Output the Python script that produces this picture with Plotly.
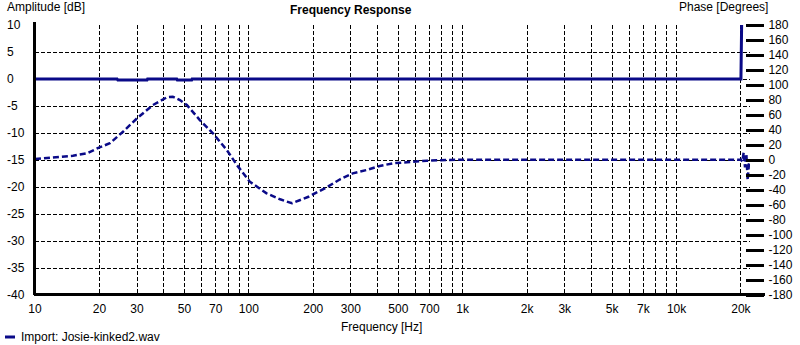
import plotly.graph_objects as go
import numpy as np

# ---- data ----
amp_freq = [10, 24.2, 24.4, 33.4, 33.6, 46, 46.3, 54, 54.3, 20000, 20300, 22050]
amp_db = [0, 0, -0.2, -0.2, 0, 0, -0.2, -0.2, 0, 0, 20, 20]

phase_freq = [10, 12.1, 15.05, 17.5, 19.9, 22.4, 25.8, 30.0, 35.6, 41.4, 44.1, 47.6,
              51.3, 59.0, 67.9, 78.9, 87.9, 101, 121, 140, 159, 190, 231, 266, 287,
              306, 356, 409, 471, 548, 679, 869, 1000, 2000, 5000, 10000, 20000,
              20300, 20600, 20900, 21200, 21500, 21800, 22050]
phase_deg = [1.3, 3.1, 5.7, 8.9, 16.5, 22.3, 37.7, 55.6, 73.3, 83.6, 84.4, 80,
             73.3, 53.3, 35.6, 13.3, -6.7, -28.9, -44.4, -52.4, -57.7, -49, -36.5, -26, -21.5,
             -17.8, -13.3, -8, -4.4, -2.7, -0.9, 0, 0.5, 0.5, 0.5, 0.5, 0.5,
             -2, 10, -10, 8, -27, -5, 0]

x_grid_vals = [10, 20, 30, 40, 50, 60, 70, 80, 90,
               100, 200, 300, 400, 500, 600, 700, 800, 900,
               1000, 2000, 3000, 4000, 5000, 6000, 7000, 8000, 9000,
               10000, 20000]
x_tick_text = ["10", "20", "30", "", "50", "", "70", "", "",
               "100", "200", "300", "", "500", "", "700", "", "",
               "1k", "2k", "3k", "", "5k", "", "7k", "", "",
               "10k", "20k"]
amp_ticks = [10, 5, 0, -5, -10, -15, -20, -25, -30, -35, -40]
phase_ticks = list(range(-180, 181, 20))
phase_tick_text = [str(v) for v in phase_ticks]

LINE = "#0a0a88"
FONT = "Liberation Sans"

W, H = 800, 345
L, R, T, B = 35, 50, 25, 50
PW = W - L - R
PH = H - T - B

def px(x):
    return (x - L) / PW

def py(y):
    return (H - B - y) / PH

fig = go.Figure()
fig.add_trace(go.Scatter(x=amp_freq, y=amp_db, mode="lines",
                         line=dict(color=LINE, width=3), yaxis="y", showlegend=False))
fig.add_trace(go.Scatter(x=phase_freq, y=phase_deg, mode="lines",
                         line=dict(color=LINE, width=2.5, dash="6px,3px"),
                         yaxis="y2", showlegend=False))

annotations = []
for v in amp_ticks:
    annotations.append(dict(x=px(5), xref="paper", y=v, yref="y", text=str(v),
                            showarrow=False, xanchor="left", yanchor="middle",
                            font=dict(family=FONT, size=12, color="black")))
annotations += [
    dict(x=px(5), y=py(7), xref="paper", yref="paper", text="Amplitude [dB]",
         showarrow=False, xanchor="left", yanchor="middle",
         font=dict(family=FONT, size=12, color="black")),
    dict(x=px(351), y=py(10), xref="paper", yref="paper", text="<b>Frequency Response</b>",
         showarrow=False, xanchor="center", yanchor="middle",
         font=dict(family=FONT, size=12, color="black")),
    dict(x=px(677), y=py(7), xref="paper", yref="paper", text="Phase [Degrees]",
         showarrow=False, xanchor="left", yanchor="middle",
         font=dict(family=FONT, size=12, color="black")),
    dict(x=px(381), y=py(327), xref="paper", yref="paper", text="Frequency [Hz]",
         showarrow=False, xanchor="center", yanchor="middle",
         font=dict(family=FONT, size=12, color="black")),
    dict(x=px(19), y=py(337), xref="paper", yref="paper", text="Import: Josie-kinked2.wav",
         showarrow=False, xanchor="left", yanchor="middle",
         font=dict(family=FONT, size=12, color="black")),
]

shapes = [
    dict(type="line", xref="paper", yref="paper", x0=px(34), x1=px(765), y0=py(294.5), y1=py(294.5),
         line=dict(color="black", width=3)),
    dict(type="line", xref="paper", yref="paper", x0=px(34.5), x1=px(34.5), y0=py(295), y1=py(22),
         line=dict(color="black", width=3)),
    dict(type="line", xref="paper", yref="paper", x0=px(5), x1=px(15), y0=py(337), y1=py(337),
         line=dict(color=LINE, width=3)),
]

fig.update_layout(
    width=W, height=H,
    margin=dict(l=L, r=R, t=T, b=B, pad=0, autoexpand=False),
    paper_bgcolor="white", plot_bgcolor="white",
    font=dict(family=FONT, size=12, color="black"),
    xaxis=dict(type="log", range=[1, np.log10(22050)], automargin=False,
               tickvals=x_grid_vals, ticktext=x_tick_text,
               showgrid=True, gridcolor="black", gridwidth=1, griddash="4px,2px",
               zeroline=False, showline=False, ticks="", ticklabelstandoff=5,
               tickfont=dict(family=FONT, size=12, color="black")),
    yaxis=dict(range=[-40, 10], tickvals=amp_ticks, showticklabels=False, automargin=False,
               showgrid=True, gridcolor="black", gridwidth=1, griddash="4px,2px",
               zeroline=False, showline=False, ticks=""),
    yaxis2=dict(range=[-180, 180], overlaying="y", side="right", anchor="free",
                position=px(745) if px(745) <= 1 else 1, automargin=False,
                tickvals=phase_ticks, ticktext=phase_tick_text,
                ticks="outside", ticklen=18, tickwidth=3, ticklabelstandoff=2,
                tickcolor="black", showgrid=False, zeroline=False, showline=False,
                tickfont=dict(family=FONT, size=12, color="black")),
    annotations=annotations,
    shapes=shapes,
)

fig.write_html("out.html")
